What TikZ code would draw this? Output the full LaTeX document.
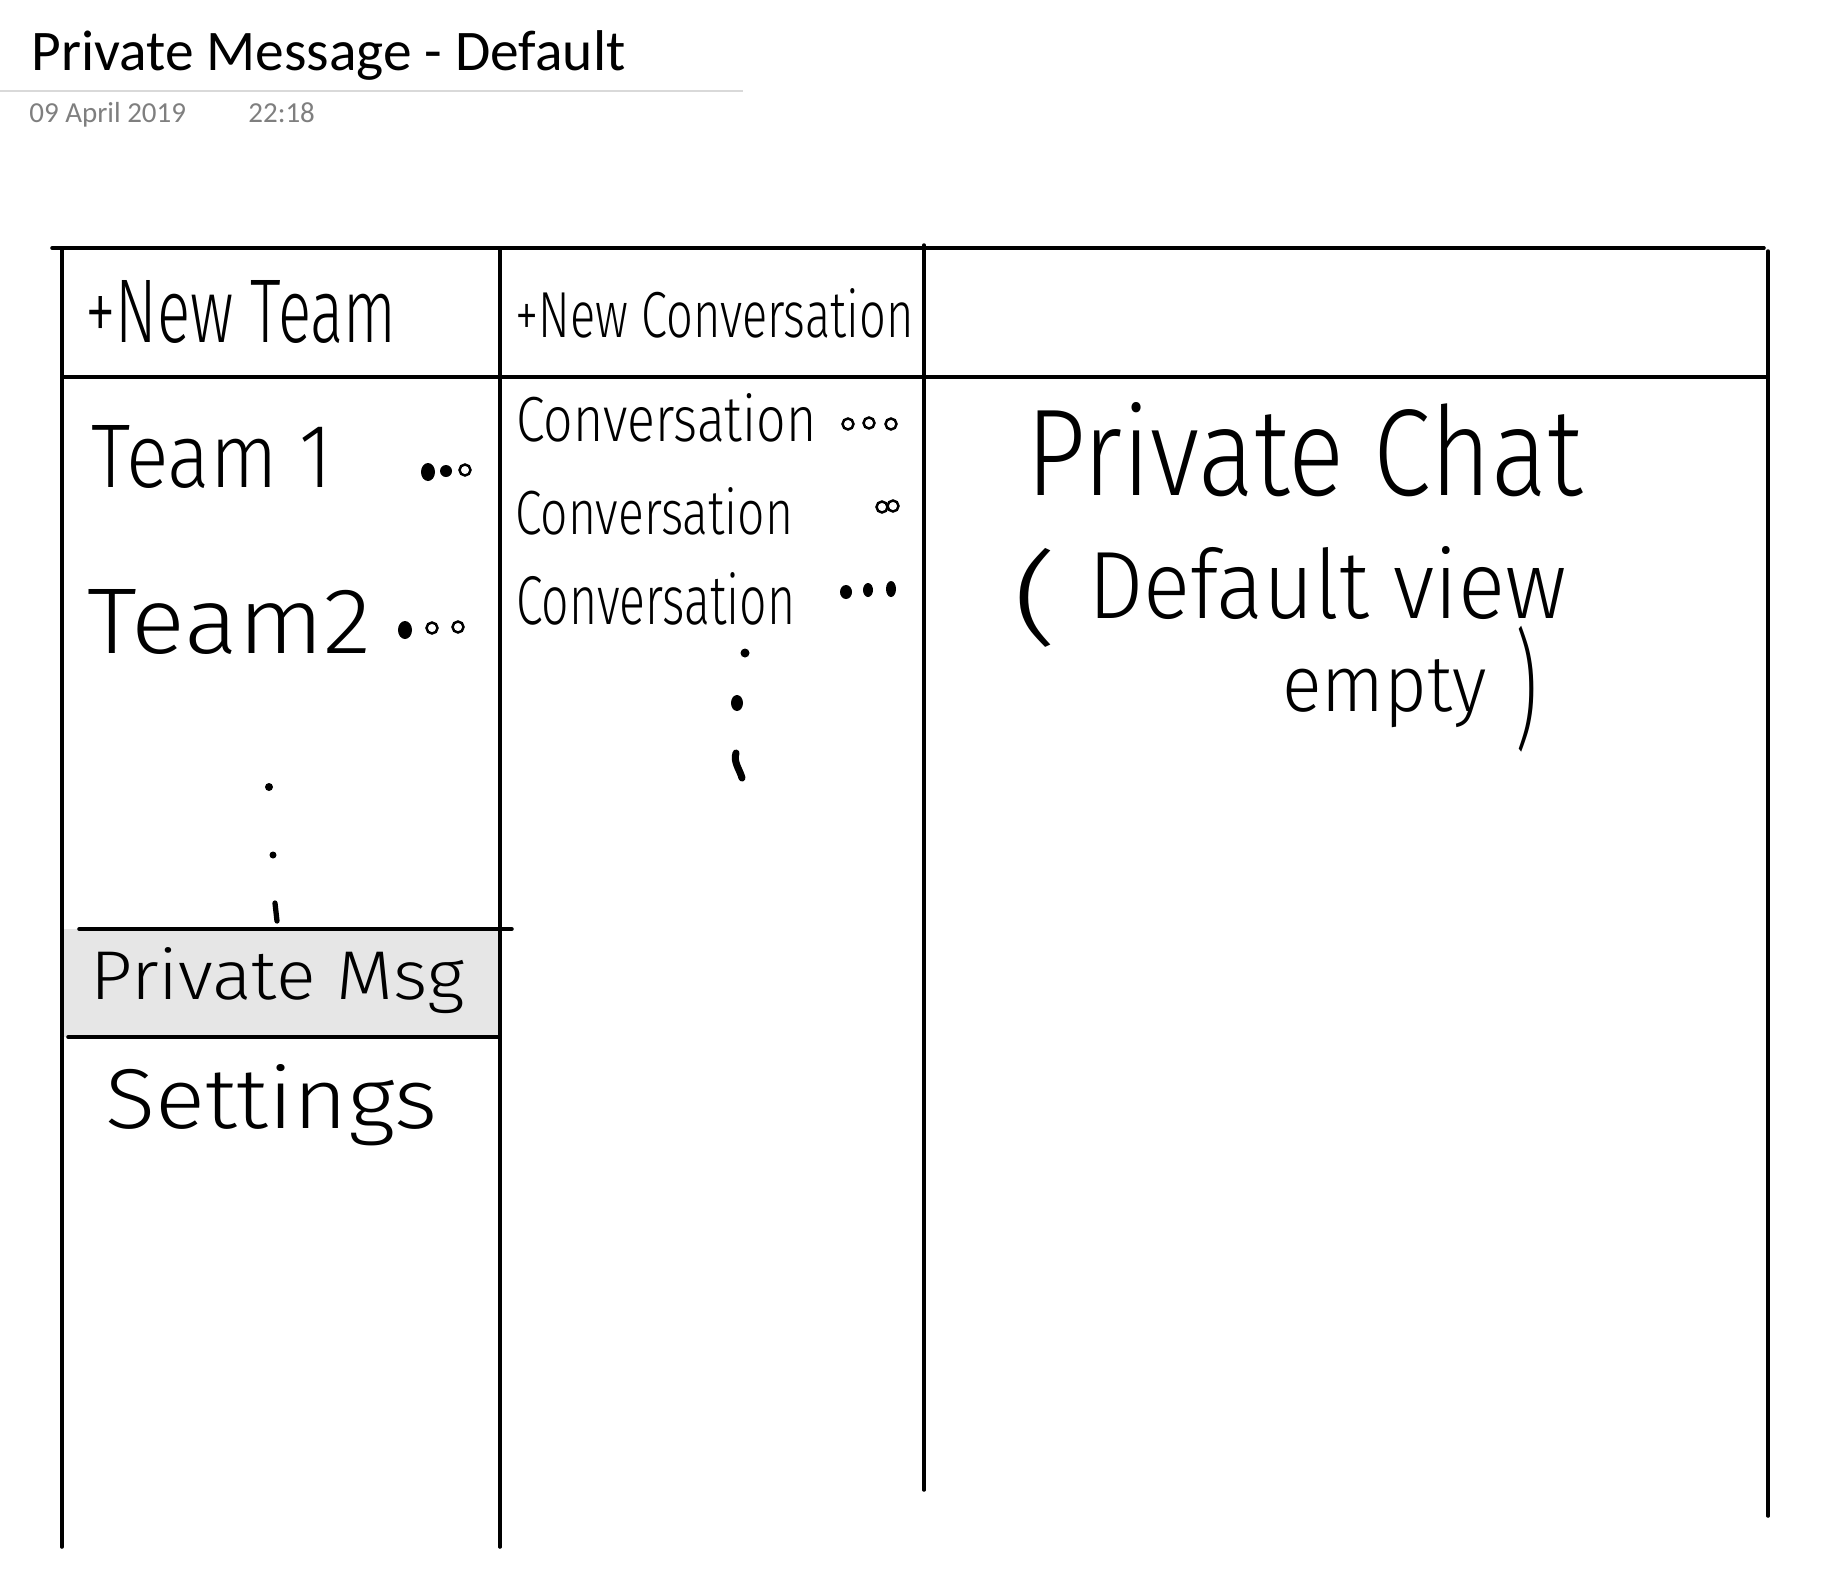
\documentclass[tikz,border=0pt]{standalone}
\usepackage{graphicx}
\usepackage{fontspec}
\setmainfont{Carlito}
\newfontfamily\handfont{Fira Sans Light}
\newlength\pxu
\setlength\pxu{0.02cm}
\newcommand\hw[3]{\resizebox{#1\pxu}{#2\pxu}{\handfont #3}}
\definecolor{dategray}{HTML}{7F7F7F}
\definecolor{rulegray}{HTML}{D9D9D9}
\definecolor{bandgray}{HTML}{E6E6E6}
\tikzset{
  frame/.style={line width=2pt, line cap=round},
  lbl/.style={inner sep=0pt, anchor=base west},
  dotf/.style={fill=black},
  doto/.style={draw=black, line width=1.4pt},
}
\begin{document}
\begin{tikzpicture}[x=0.02cm, y=-0.02cm]
\useasboundingbox (0,0) rectangle (1828,1586);
% header
\node[lbl] (title) at (31,70) {\resizebox{594\pxu}{!}{\fontsize{36}{40}\selectfont Private Message - Default}};
\draw[rulegray, line width=1.2pt] (0,91) -- (743,91);
\node[lbl, text=dategray] (date) at (29,122) {\fontsize{16.5}{18}\selectfont 09 April 2019};
\node[lbl, text=dategray] (time) at (248,122) {\fontsize{16.5}{18}\selectfont 22:18};
% private msg band
\fill[bandgray] (64,929) rectangle (500,1037);
% frame
\draw[frame] (52,248) -- (1764,248);
\draw[frame] (62,377) -- (1768,377);
\draw[frame] (62,248) -- (62,1547);
\draw[frame] (500,248) -- (500,1547);
\draw[frame] (924,245) -- (924,1490);
\draw[frame] (1768,251) -- (1768,1516);
\draw[frame] (79,929) -- (512,929);
\draw[frame] (68,1037) -- (500,1037);
% column 1
\node[lbl] (newteam) at (85,342) {\hw{311}{62}{+New Team}};
\node[lbl] (team1) at (91,487) {\hw{241}{62}{Team 1}};
\node[lbl] (team2) at (87,653) {\hw{284}{64}{Team2}};
\node[lbl] (privmsg) at (90,999) {\hw{374}{52}{Private Msg}};
\node[lbl] (settings) at (105,1128) {\hw{332}{64}{Settings}};
\fill[dotf] (428,472) ellipse [x radius=7, y radius=9];
\fill[dotf] (446,471) circle [radius=6];
\draw[doto] (465,470) circle [radius=5.5];
\fill[dotf] (405,630) ellipse [x radius=7, y radius=9];
\draw[doto] (432,628) circle [radius=5.5];
\draw[doto] (458,627) circle [radius=5.5];
\fill[dotf] (269,787) circle [radius=4];
\fill[dotf] (273,855) circle [radius=3.5];
\draw[line width=3pt, line cap=round] (275,903) -- (277,921);
% column 2
\node[lbl] (newconv) at (515,337) {\hw{398}{49}{+New Conversation}};
\node[lbl] (conv1) at (516,441) {\hw{300}{48}{Conversation}};
\node[lbl] (conv2) at (515,534) {\hw{278}{47}{Conversation}};
\node[lbl] (conv3) at (516,624) {\hw{279}{52}{Conversation}};
\draw[doto] (848,424) circle [radius=5.5];
\draw[doto] (869,423) circle [radius=5.5];
\draw[doto] (891,424) circle [radius=5.5];
\draw[doto] (882,507) circle [radius=5.5];
\draw[doto] (893,506) circle [radius=5.5];
\fill[dotf] (846,592) ellipse [x radius=6, y radius=7];
\fill[dotf] (868,590) ellipse [x radius=5, y radius=7];
\fill[dotf] (891,589) ellipse [x radius=5, y radius=8];
\fill[dotf] (745,653) circle [radius=4.5];
\fill[dotf] (737,703) ellipse [x radius=6, y radius=8];
\draw[line width=4pt, line cap=round] (736,753) .. controls (733,762) and (740,770) .. (742,778);
% column 3
\node[lbl] (chat) at (1026,495) {\hw{556}{93}{Private Chat}};
\node[inner sep=0pt, anchor=north west] (lpar) at (1012,548) {\resizebox*{46\pxu}{99\pxu}{\handfont (}};
\node[lbl] (defview) at (1088,618) {\hw{478}{72}{Default view}};
\node[lbl] (empty) at (1282,711) {\hw{204}{52}{empty}};
\node[inner sep=0pt, anchor=north west] (rpar) at (1515,626) {\resizebox*{22\pxu}{126\pxu}{\handfont )}};
\end{tikzpicture}
\end{document}
